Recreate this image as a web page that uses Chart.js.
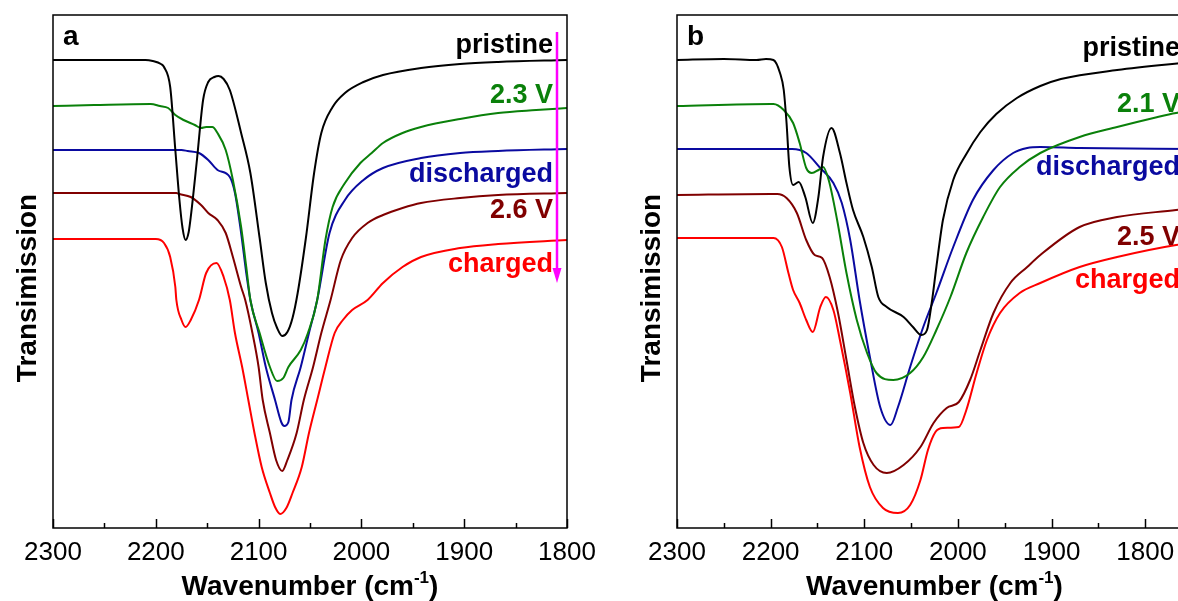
<!DOCTYPE html>
<html>
<head>
<meta charset="utf-8">
<script src="https://cdn.jsdelivr.net/npm/chart.js"></script>
<style>
  html, body { margin: 0; padding: 0; background: #fff; overflow: hidden; width: 1178px; height: 601px; }
  canvas { position: absolute; top: 0; }
  #panelA { left: 0; }
  #panelB { left: 600px; }
</style>
</head>
<body>
<canvas id="panelA" width="640" height="601"></canvas>
<canvas id="panelB" width="630" height="601"></canvas>
<script>
// x axis tick labels (cm-1)
const wavenumberTicks = [2300, 2200, 2100, 2000, 1900, 1800];

// series names and colours, top curve first
const labelsA = ['pristine', '2.3 V', 'discharged', '2.6 V', 'charged'];
const labelsB = ['pristine', '2.1 V', 'discharged', '2.5 V', 'charged'];
const seriesColors = ['#000000', '#0a800a', '#0a0aa0', '#800000', '#ff0000'];

// panel a: [wavenumber, stacked transmission (a.u.)]
const pristineA = [[2300,468],[2210,468],[2203,467],[2195,464],[2192,461],[2186,441],[2181,378],[2177,328],[2174,300],[2171,288],[2168,296],[2166,311],[2160,368],[2154,428],[2149,446],[2143,451],[2139,452],[2134,449],[2128,438],[2117,395],[2108,355],[2099,290],[2093,245],[2087,215],[2082,200],[2077,192],[2072,196],[2067,210],[2062,235],[2054,290],[2046,355],[2039,395],[2028,421],[2016,435],[1998,446],[1979,453],[1942,460],[1904,464],[1867,466],[1800,468]];
const v23A = [[2300,422],[2260,423],[2205,424],[2196,422],[2188,420],[2181,413],[2173,408],[2162,403],[2156,400],[2151,401],[2145,401],[2140,395],[2132,378],[2125,348],[2117,301],[2112,261],[2108,228],[2099,195],[2089,161],[2082,147],[2076,150],[2071,161],[2059,178],[2052,195],[2043,228],[2035,288],[2028,321],[2016,345],[2001,365],[1990,375],[1979,385],[1960,395],[1942,401],[1904,409],[1867,415],[1830,418],[1800,420]];
const dischargedA = [[2300,378],[2175,378],[2169,377],[2158,375],[2149,368],[2140,358],[2128,351],[2123,335],[2117,295],[2112,255],[2108,228],[2100,195],[2093,161],[2084,128],[2078,106],[2075,102],[2071,106],[2068,128],[2059,161],[2051,195],[2043,228],[2031,295],[2016,328],[1998,348],[1979,360],[1942,370],[1904,375],[1867,377],[1800,379]];
const v26A = [[2300,335],[2180,335],[2177,334],[2166,331],[2156,323],[2149,315],[2140,308],[2132,295],[2125,271],[2117,241],[2113,228],[2106,195],[2100,161],[2096,128],[2089,95],[2083,68],[2077,57],[2072,68],[2063,95],[2056,128],[2047,161],[2039,195],[2030,228],[2020,268],[2009,290],[1994,305],[1979,313],[1960,320],[1942,325],[1904,330],[1867,333],[1800,335]];
const chargedA = [[2300,289],[2200,289],[2192,285],[2186,271],[2181,241],[2180,228],[2175,208],[2171,201],[2166,208],[2158,228],[2151,255],[2141,265],[2134,251],[2128,228],[2123,195],[2116,161],[2110,128],[2104,95],[2097,61],[2089,35],[2084,21],[2079,14],[2073,20],[2067,35],[2058,61],[2051,95],[2043,128],[2035,161],[2026,195],[2018,208],[2009,218],[1994,228],[1979,245],[1960,261],[1942,271],[1904,280],[1867,284],[1800,288]];

// panel b
const pristineB = [[2300,468],[2250,469],[2215,468],[2205,469],[2197,468],[2190,455],[2186,438],[2183,405],[2180,361],[2176,343],[2170,346],[2163,331],[2155,305],[2149,331],[2144,371],[2135,400],[2126,375],[2119,345],[2112,318],[2101,291],[2092,261],[2085,231],[2076,221],[2058,211],[2048,201],[2039,193],[2033,198],[2028,225],[2023,261],[2016,308],[2005,348],[1991,374],[1976,396],[1959,414],[1937,430],[1912,442],[1890,449],[1830,458],[1750,466]];
const v21B = [[2300,422],[2200,424],[2197,424],[2186,418],[2176,405],[2169,385],[2162,360],[2156,355],[2149,358],[2144,361],[2138,348],[2129,308],[2119,255],[2108,208],[2097,175],[2087,155],[2069,148],[2051,155],[2037,171],[2023,198],[2008,231],[1991,275],[1973,311],[1955,341],[1934,361],[1912,375],[1870,391],[1830,401],[1791,410],[1767,415],[1750,417]];
const dischargedB = [[2300,379],[2177,379],[2162,375],[2147,360],[2133,345],[2124,325],[2115,288],[2105,228],[2094,171],[2083,121],[2072,103],[2064,121],[2051,161],[2037,201],[2023,235],[2005,281],[1984,328],[1962,358],[1941,375],[1926,380],[1912,381],[1870,380],[1750,379]];
const v25B = [[2300,333],[2200,334],[2193,334],[2183,330],[2172,315],[2162,288],[2153,273],[2145,270],[2137,251],[2128,215],[2119,168],[2110,121],[2101,85],[2090,63],[2076,55],[2058,63],[2040,81],[2026,105],[2012,120],[1999,126],[1987,148],[1976,178],[1962,215],[1944,245],[1926,261],[1912,273],[1870,301],[1830,311],[1767,318],[1750,320]];
const chargedB = [[2300,290],[2205,290],[2197,290],[2188,281],[2181,255],[2176,238],[2169,225],[2162,208],[2155,196],[2147,221],[2141,231],[2133,218],[2126,188],[2115,135],[2105,81],[2094,41],[2080,20],[2064,15],[2051,23],[2040,48],[2032,78],[2024,96],[2016,100],[1999,101],[1991,118],[1980,155],[1969,188],[1955,215],[1934,235],[1912,245],[1870,261],[1830,271],[1767,283],[1750,285]];

const FONT = '"Liberation Sans", Arial, sans-serif';

// frame, inward ticks, titles and curve labels drawn on top of each panel
function decorPlugin(o) {
  return {
    id: 'decor',
    afterDraw(chart) {
      const ctx = chart.ctx, a = chart.chartArea, xs = chart.scales.x;
      ctx.save();
      ctx.strokeStyle = '#000';
      ctx.lineWidth = 1.5;
      ctx.strokeRect(a.left, a.top, a.right - a.left, a.bottom - a.top);
      for (let w = xs.max; w >= xs.min; w -= 50) {
        const px = Math.round(xs.getPixelForValue(w)) + 0.5;
        const len = w % 100 === 0 ? 9 : 5;
        ctx.beginPath();
        ctx.moveTo(px, a.bottom);
        ctx.lineTo(px, a.bottom - len);
        ctx.stroke();
      }

      ctx.fillStyle = '#000';
      ctx.textBaseline = 'alphabetic';
      ctx.font = 'bold 28px ' + FONT;
      ctx.textAlign = 'left';
      ctx.fillText(o.letter, a.left + 10, 45);

      // curve labels
      ctx.font = 'bold 27px ' + FONT;
      ctx.textAlign = 'right';
      o.labels.forEach((t, i) => {
        ctx.fillStyle = seriesColors[i];
        ctx.fillText(t, o.labelRight, o.labelY[i]);
      });

      // y title
      ctx.fillStyle = '#000';
      ctx.save();
      ctx.translate(a.left - 17, 288);
      ctx.rotate(-Math.PI / 2);
      ctx.textAlign = 'center';
      ctx.font = 'bold 28px ' + FONT;
      ctx.fillText('Transimission', 0, 0);
      ctx.restore();

      // x title with superscript
      const main = 'Wavenumber (cm', sup = '-1', close = ')';
      ctx.textAlign = 'left';
      ctx.font = 'bold 28px ' + FONT;
      const wMain = ctx.measureText(main).width, wClose = ctx.measureText(close).width;
      ctx.font = 'bold 17px ' + FONT;
      const wSup = ctx.measureText(sup).width;
      let x = (a.left + a.right) / 2 - (wMain + wSup + wClose) / 2;
      ctx.font = 'bold 28px ' + FONT;
      ctx.fillText(main, x, 595);
      x += wMain;
      ctx.font = 'bold 17px ' + FONT;
      ctx.fillText(sup, x, 583);
      x += wSup;
      ctx.font = 'bold 28px ' + FONT;
      ctx.fillText(close, x, 595);

      if (o.arrowX) {
        ctx.strokeStyle = '#ff00ff';
        ctx.fillStyle = '#ff00ff';
        ctx.lineWidth = 2.5;
        ctx.beginPath();
        ctx.moveTo(o.arrowX, 32);
        ctx.lineTo(o.arrowX, 272);
        ctx.stroke();
        ctx.beginPath();
        ctx.moveTo(o.arrowX - 4.5, 268);
        ctx.lineTo(o.arrowX + 4.5, 268);
        ctx.lineTo(o.arrowX, 283);
        ctx.closePath();
        ctx.fill();
      }
      ctx.restore();
    }
  };
}

function makePanel(id, series, o) {
  new Chart(document.getElementById(id), {
    type: 'line',
    data: {
      datasets: series.map((s, i) => ({
        label: o.labels[i],
        data: s.map(p => ({ x: p[0], y: p[1] })),
        borderColor: seriesColors[i],
        borderWidth: 2,
        pointRadius: 0,
        fill: false,
        cubicInterpolationMode: 'monotone'
      }))
    },
    options: {
      responsive: false,
      animation: false,
      devicePixelRatio: 1,
      layout: { padding: { left: o.padLeft, right: o.padRight, top: 15, bottom: 0 } },
      plugins: { legend: { display: false }, tooltip: { enabled: false } },
      scales: {
        x: {
          type: 'linear',
          reverse: true,
          min: o.xMin,
          max: 2300,
          grid: { display: false, drawTicks: false },
          border: { display: false },
          afterBuildTicks: s => { s.ticks = wavenumberTicks.map(v => ({ value: v })); },
          afterFit: s => { s.height = 73; },
          ticks: {
            padding: 9, color: '#000', font: { family: FONT, size: 26 },
            maxRotation: 0, autoSkip: false,
            callback: v => String(v)
          }
        },
        y: { display: false, min: 0, max: 513 }
      }
    },
    plugins: [decorPlugin(o)]
  });
}

makePanel('panelA', [pristineA, v23A, dischargedA, v26A, chargedA], {
  labels: labelsA, letter: 'a', xMin: 1800, padLeft: 53, padRight: 73,
  labelRight: 553, labelY: [53, 103, 182, 218, 272], arrowX: 557
});
makePanel('panelB', [pristineB, v21B, dischargedB, v25B, chargedB], {
  labels: labelsB, letter: 'b', xMin: 1750, padLeft: 77, padRight: 38,
  labelRight: 580, labelY: [56, 112, 175, 245, 288]
});
</script>
</body>
</html>
